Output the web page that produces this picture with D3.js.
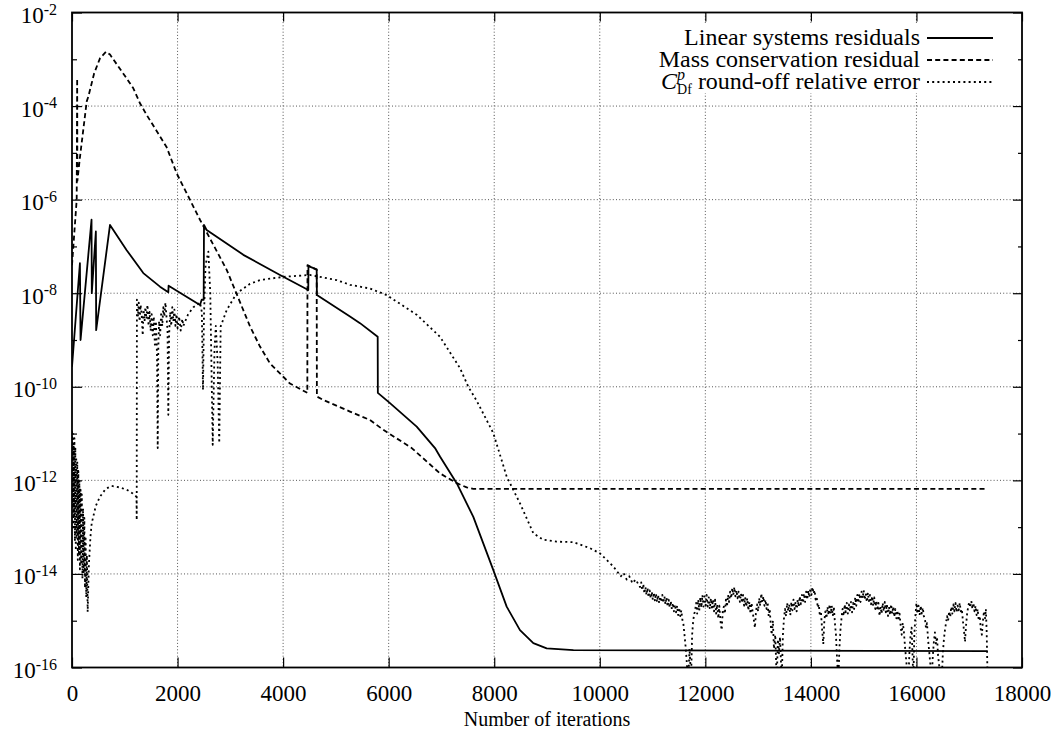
<!DOCTYPE html>
<html lang="en">
<head>
<meta charset="UTF-8">
<title>Residuals vs iterations</title>
<script src="https://d3js.org/d3.v7.min.js"></script>
<style>
  body { margin: 0; background: #fff; }
  svg { display: block; font-family: "Liberation Serif", "Times New Roman", serif; }
  .tick line { stroke: #000; stroke-width: 1.2; }
  .grid line { stroke: #555; stroke-width: 1; stroke-dasharray: 1 2.2; }
  .curve { fill: none; stroke: #000; stroke-width: 1.8; stroke-linejoin: round; }
</style>
</head>
<body>
<div id="chart"></div>
<script>
// ---- data: [iteration, log10(value)] ----
const xTicks = [0, 2000, 4000, 6000, 8000, 10000, 12000, 14000, 16000, 18000];
const yMajorExp = [-2, -4, -6, -8, -10, -12, -14, -16];
const yMinorExp = [-3, -5, -7, -9, -11, -13, -15];
const seriesNames = ["Linear systems residuals", "Mass conservation residual", "round-off relative error"];

const linearResidual = [
  [0, -9.57], [150, -7.36], [162, -9.0], [370, -6.43], [375, -8.0], [452, -6.68], [458, -8.79],
  [720, -6.54], [1036, -7.08], [1351, -7.57], [1667, -7.86], [1825, -7.98], [1830, -7.84],
  [2425, -8.25], [2457, -8.14], [2495, -8.14], [2501, -6.54], [2552, -6.65], [3246, -7.18],
  [3941, -7.61], [4477, -7.93], [4480, -7.42], [4636, -7.49], [4640, -8.04], [5267, -8.5],
  [5457, -8.64], [5792, -8.93], [5795, -10.13], [6025, -10.35], [6531, -10.85], [6878, -11.31],
  [6972, -11.49], [7289, -12.06], [7604, -12.78], [7983, -13.92], [8236, -14.7], [8488, -15.2],
  [8741, -15.48], [8994, -15.59], [9500, -15.63], [17349, -15.65]
];

const massResidual = [
  [0, -7.4], [89, -6.0], [98, -3.41], [102, -5.6], [152, -5.08], [279, -3.9], [309, -3.8],
  [420, -3.3], [530, -2.98], [644, -2.84], [720, -2.9], [1036, -3.41], [1162, -3.62],
  [1288, -3.94], [1415, -4.19], [1794, -4.88], [1984, -5.44], [2425, -6.43], [2931, -7.5],
  [3373, -8.71], [3562, -9.14], [3751, -9.5], [4130, -9.93], [4459, -10.13], [4462, -7.4],
  [4636, -7.5], [4640, -10.21], [4762, -10.28], [5267, -10.53], [5646, -10.71], [5899, -10.92],
  [6437, -11.31], [6972, -11.85], [7289, -12.06], [7478, -12.15], [7604, -12.18], [17330, -12.18]
];

const roundoffError = [
  [0, -10.95], [8, -12.6], [15, -11.0], [22, -13.0], [30, -11.2], [38, -12.8], [46, -11.1],
  [55, -13.3], [63, -11.3], [72, -13.5], [80, -11.5], [90, -13.2], [100, -11.6], [110, -13.7],
  [120, -11.8], [130, -13.6], [140, -12.0], [150, -13.9], [162, -12.2], [174, -13.8], [186, -12.3],
  [198, -14.1], [210, -12.6], [222, -14.0], [234, -12.8], [246, -14.3], [258, -13.2], [270, -14.5],
  [282, -13.6], [297, -14.81], [320, -13.8], [350, -13.2], [373, -12.92], [450, -12.55],
  [530, -12.35], [640, -12.18], [752, -12.12], [900, -12.15], [1036, -12.2], [1150, -12.28],
  [1222, -12.35], [1226, -12.85], [1230, -8.14], [1250, -8.5], [1265, -8.2], [1280, -8.6],
  [1300, -8.25], [1320, -8.45], [1340, -8.9], [1355, -8.35], [1375, -8.6], [1390, -8.3],
  [1410, -8.55], [1430, -8.25], [1450, -8.7], [1470, -8.4], [1490, -8.8], [1510, -8.45],
  [1530, -8.9], [1550, -8.5], [1570, -9.1], [1590, -8.6], [1610, -9.3], [1624, -11.31],
  [1635, -9.2], [1650, -8.6], [1670, -8.9], [1690, -8.4], [1710, -8.7], [1730, -8.3],
  [1750, -8.5], [1770, -8.2], [1790, -8.5], [1810, -8.8], [1825, -10.6], [1840, -8.9],
  [1860, -8.4], [1880, -8.7], [1900, -8.3], [1920, -8.6], [1940, -8.35], [1960, -8.7],
  [1980, -8.45], [2000, -8.75], [2030, -8.5], [2060, -8.8], [2090, -8.55], [2109, -8.7],
  [2200, -8.45], [2300, -8.3], [2425, -8.2], [2460, -8.4], [2482, -10.07], [2500, -8.5],
  [2530, -7.4], [2583, -7.11], [2620, -8.0], [2666, -11.24], [2700, -9.2], [2725, -8.7],
  [2760, -9.5], [2790, -11.2], [2817, -8.71], [2931, -8.36], [3121, -8.0], [3373, -7.8],
  [3562, -7.72], [4004, -7.65], [4509, -7.61], [5015, -7.72], [5267, -7.82], [5646, -7.9],
  [5962, -8.04], [6531, -8.46], [6972, -8.93], [7351, -9.6], [7509, -10.0], [7668, -10.3],
  [7983, -10.99], [8236, -11.92], [8488, -12.49], [8741, -13.13], [8930, -13.27], [9184, -13.31],
  [9498, -13.32], [9815, -13.45], [10004, -13.56], [10256, -13.84], [10330, -13.95],
  [10400, -14.05], [10450, -13.98], [10510, -14.12], [10560, -14.05], [10620, -14.2],
  [10680, -14.12], [10762, -14.28], [10785, -14.18], [10805, -14.35], [10825, -14.22],
  [10845, -14.42], [10865, -14.28], [10885, -14.45], [10905, -14.3], [10925, -14.5],
  [10945, -14.35], [10965, -14.52], [10985, -14.38], [11005, -14.55], [11025, -14.4],
  [11045, -14.58], [11065, -14.42], [11085, -14.6], [11105, -14.45], [11125, -14.62],
  [11145, -14.48], [11165, -14.6], [11185, -14.45], [11205, -14.62], [11225, -14.48],
  [11245, -14.65], [11265, -14.5], [11285, -14.7], [11305, -14.55], [11325, -14.72],
  [11345, -14.58], [11365, -14.75], [11385, -14.62], [11405, -14.8], [11425, -14.65],
  [11445, -14.82], [11465, -14.68], [11485, -14.88], [11505, -14.72], [11525, -14.9],
  [11545, -14.78], [11565, -14.98], [11583, -15.05], [11605, -15.3], [11630, -15.6],
  [11655, -16.0], [11677, -16.3], [11700, -15.6], [11715, -15.9], [11730, -16.2], [11750, -15.3],
  [11770, -15.0], [11790, -14.85], [11804, -14.8], [11825, -14.62], [11845, -14.85], [11865, -14.55],
  [11885, -14.78], [11905, -14.5], [11925, -14.72], [11945, -14.45], [11965, -14.7], [11985, -14.48],
  [12005, -14.68], [12025, -14.45], [12045, -14.7], [12065, -14.5], [12085, -14.75], [12105, -14.52],
  [12125, -14.72], [12145, -14.55], [12165, -14.8], [12185, -14.55], [12205, -14.85], [12225, -14.65],
  [12245, -14.95], [12265, -14.68], [12290, -15.05], [12310, -15.2], [12330, -14.8], [12350, -14.7],
  [12370, -14.85], [12390, -14.55], [12410, -14.7], [12430, -14.45], [12450, -14.6], [12470, -14.38],
  [12490, -14.52], [12510, -14.3], [12530, -14.45], [12550, -14.28], [12570, -14.48], [12590, -14.35],
  [12610, -14.52], [12630, -14.38], [12655, -14.6], [12675, -14.42], [12695, -14.62], [12715, -14.45],
  [12735, -14.68], [12755, -14.5], [12775, -14.7], [12795, -14.52], [12815, -14.78], [12835, -14.6],
  [12855, -14.85], [12875, -14.62], [12895, -14.8], [12915, -14.95], [12940, -15.15], [12960, -14.8],
  [12980, -14.65], [13000, -14.8], [13020, -14.52], [13040, -14.68], [13060, -14.42], [13080, -14.6],
  [13100, -14.48], [13120, -14.68], [13140, -14.55], [13160, -14.75], [13180, -14.6], [13200, -14.9],
  [13220, -14.75], [13240, -15.1], [13257, -15.3], [13280, -15.0], [13300, -15.6], [13325, -15.3],
  [13352, -16.3], [13375, -15.4], [13395, -15.7], [13415, -15.35], [13447, -16.3], [13470, -15.3],
  [13490, -14.95], [13510, -14.75], [13530, -14.9], [13550, -14.62], [13570, -14.8], [13590, -14.65],
  [13610, -14.88], [13630, -14.6], [13650, -14.78], [13670, -14.55], [13690, -14.75], [13710, -14.6],
  [13730, -14.8], [13750, -14.55], [13770, -14.7], [13790, -14.48], [13810, -14.65], [13830, -14.45],
  [13850, -14.62], [13870, -14.42], [13890, -14.6], [13910, -14.38], [13930, -14.55], [13950, -14.35],
  [13970, -14.5], [13990, -14.3], [14010, -14.45], [14030, -14.28], [14050, -14.42], [14070, -14.35],
  [14090, -14.55], [14110, -14.5], [14130, -14.72], [14150, -14.65], [14170, -14.9], [14190, -14.8],
  [14210, -15.15], [14235, -15.5], [14255, -15.0], [14275, -14.8], [14295, -14.95], [14315, -14.7],
  [14335, -14.88], [14355, -14.65], [14375, -14.85], [14395, -14.68], [14415, -14.9], [14435, -14.7],
  [14455, -15.05], [14475, -15.3], [14495, -15.8], [14520, -16.3], [14540, -15.6], [14560, -15.2],
  [14580, -14.95], [14600, -14.75], [14620, -14.9], [14640, -14.65], [14660, -14.82], [14680, -14.62],
  [14700, -14.85], [14720, -14.65], [14740, -14.8], [14760, -14.6], [14780, -14.82], [14800, -14.62],
  [14820, -14.75], [14840, -14.5], [14860, -14.68], [14880, -14.45], [14900, -14.62], [14920, -14.42],
  [14940, -14.6], [14960, -14.38], [14980, -14.52], [15000, -14.35], [15020, -14.55], [15040, -14.42],
  [15060, -14.6], [15080, -14.4], [15100, -14.58], [15120, -14.45], [15140, -14.65], [15160, -14.48],
  [15180, -14.68], [15200, -14.5], [15220, -14.75], [15240, -14.58], [15260, -14.78], [15280, -14.62],
  [15300, -14.9], [15320, -14.7], [15340, -14.85], [15360, -14.62], [15380, -14.8], [15400, -14.6],
  [15420, -14.82], [15440, -14.65], [15460, -14.9], [15480, -14.7], [15500, -14.88], [15520, -14.65],
  [15540, -14.85], [15560, -14.7], [15580, -14.92], [15600, -14.75], [15620, -14.95], [15640, -14.78],
  [15660, -15.0], [15680, -14.85], [15700, -15.1], [15720, -15.3], [15740, -15.05], [15760, -15.2],
  [15783, -15.55], [15810, -15.9], [15846, -16.3], [15870, -15.6], [15890, -15.3], [15909, -15.15],
  [15925, -15.7], [15941, -16.3], [15960, -15.3], [15980, -14.9], [16000, -14.62], [16020, -14.85],
  [16040, -14.68], [16060, -14.88], [16080, -14.68], [16100, -14.85], [16120, -14.72], [16140, -14.9],
  [16160, -14.95], [16180, -15.15], [16200, -15.05], [16220, -15.4], [16245, -15.7], [16265, -15.95],
  [16288, -16.3], [16310, -15.75], [16330, -15.45], [16350, -15.25], [16370, -15.5], [16390, -15.35],
  [16410, -15.75], [16430, -15.95], [16455, -16.1], [16478, -16.3], [16500, -15.7], [16520, -15.4],
  [16540, -15.2], [16560, -15.05], [16580, -14.9], [16600, -15.0], [16620, -14.8], [16640, -14.92],
  [16660, -14.7], [16680, -14.85], [16700, -14.65], [16720, -14.8], [16740, -14.62], [16760, -14.82],
  [16780, -14.68], [16800, -14.78], [16820, -14.62], [16840, -14.8], [16860, -14.75], [16880, -15.0],
  [16900, -15.2], [16920, -15.45], [16940, -15.1], [16960, -14.85], [16980, -14.7], [17000, -14.6],
  [17020, -14.72], [17040, -14.58], [17060, -14.75], [17080, -14.62], [17100, -14.8], [17120, -14.68],
  [17140, -14.88], [17160, -14.75], [17180, -15.0], [17200, -14.9], [17220, -15.2], [17240, -15.3],
  [17260, -15.0], [17280, -14.8], [17300, -14.95], [17315, -14.75], [17330, -15.2], [17349, -16.3]
];

// ---- layout ----
const W = 1060, H = 747;
const plotL = 72, plotR = 1022, plotT = 12.5, plotB = 667.5;

const svg = d3.select('#chart').append('svg')
  .attr('width', W).attr('height', H);

const x = d3.scaleLinear().domain([0, 18000]).range([plotL, plotR]);
const y = d3.scaleLog().domain([1e-16, 1e-2]).range([plotB, plotT]);
const yv = e => y(Math.pow(10, e));

// grid
svg.append('g').attr('class', 'grid')
  .selectAll('line').data(xTicks.slice(1, -1)).enter().append('line')
  .attr('x1', d => x(d)).attr('x2', d => x(d)).attr('y1', plotT).attr('y2', plotB);
svg.append('g').attr('class', 'grid')
  .selectAll('line').data(yMajorExp.slice(1, -1)).enter().append('line')
  .attr('x1', plotL).attr('x2', plotR).attr('y1', d => yv(d)).attr('y2', d => yv(d));

// axes (ticks pointing inward, mirrored)
const bottomAxis = svg.append('g').attr('transform', `translate(0,${plotB})`)
  .call(d3.axisBottom(x).tickValues(xTicks).tickSizeInner(-10).tickSizeOuter(0)
    .tickPadding(17).tickFormat(d3.format('d')));
bottomAxis.selectAll('text').attr('font-size', 23).attr('fill', '#000')
  .attr('font-family', '"Liberation Serif", serif');
svg.append('g').attr('transform', `translate(0,${plotT})`)
  .call(d3.axisTop(x).tickValues(xTicks).tickSizeInner(-9).tickSizeOuter(0).tickFormat(''));
svg.append('g').attr('transform', `translate(${plotL},0)`)
  .call(d3.axisLeft(y).tickValues(yMajorExp.map(e => Math.pow(10, e))).tickSizeInner(-10).tickSizeOuter(0).tickFormat(''));
svg.append('g').attr('transform', `translate(${plotL},0)`)
  .call(d3.axisLeft(y).tickValues(yMinorExp.map(e => Math.pow(10, e))).tickSizeInner(-5).tickSizeOuter(0).tickFormat(''));
svg.append('g').attr('transform', `translate(${plotR},0)`)
  .call(d3.axisRight(y).tickValues(yMajorExp.map(e => Math.pow(10, e))).tickSizeInner(-9).tickSizeOuter(0).tickFormat(''));
svg.append('g').attr('transform', `translate(${plotR},0)`)
  .call(d3.axisRight(y).tickValues(yMinorExp.map(e => Math.pow(10, e))).tickSizeInner(-4).tickSizeOuter(0).tickFormat(''));
svg.selectAll('.domain').remove();

// y tick labels 10^n
const ylab = svg.append('g').selectAll('text').data(yMajorExp).enter().append('text')
  .attr('x', 57).attr('y', d => yv(d) + 10.5)
  .attr('text-anchor', 'end').attr('font-size', 23);
ylab.append('tspan').text('10');
ylab.append('tspan').attr('dy', -8.5).attr('font-size', 16).text(d => '-' + Math.abs(d));

// x axis title
svg.append('text').attr('x', (plotL + plotR) / 2).attr('y', 726)
  .attr('text-anchor', 'middle').attr('font-size', 20).text('Number of iterations');

// legend background (hides grid under key)
svg.append('rect').attr('x', 640).attr('y', 23).attr('width', 372).attr('height', 70).attr('fill', '#fff');

// curves
svg.append('clipPath').attr('id', 'plotclip')
  .append('rect').attr('x', plotL).attr('y', plotT).attr('width', plotR - plotL).attr('height', plotB - plotT);
const line = d3.line().x(d => x(d[0])).y(d => yv(d[1]));
const plot = svg.append('g').attr('clip-path', 'url(#plotclip)');
const dashes = [null, '5 3.2', '2 3.2'];
[linearResidual, massResidual, roundoffError].forEach((s, i) => {
  plot.append('path').datum(s).attr('class', 'curve')
    .attr('stroke-dasharray', dashes[i]).attr('d', line);
});

// border
svg.append('rect').attr('x', plotL).attr('y', plotT).attr('width', plotR - plotL).attr('height', plotB - plotT)
  .attr('fill', 'none').attr('stroke', '#000').attr('stroke-width', 1.8);

// legend
const keyRows = [45, 67, 89];
const key = svg.append('g');
keyRows.forEach((by, i) => {
  key.append('line').attr('x1', 927).attr('x2', 993).attr('y1', by - 7).attr('y2', by - 7)
    .attr('stroke', '#000').attr('stroke-width', 1.8).attr('stroke-dasharray', dashes[i]);
});
key.append('text').attr('x', 920).attr('y', keyRows[0]).attr('text-anchor', 'end')
  .attr('font-size', 24).text(seriesNames[0]);
key.append('text').attr('x', 920).attr('y', keyRows[1]).attr('text-anchor', 'end')
  .attr('font-size', 24).text(seriesNames[1]);
const k3 = key.append('text').attr('x', 920).attr('y', keyRows[2]).attr('text-anchor', 'end')
  .attr('font-size', 24);
k3.append('tspan').attr('font-style', 'italic').text('C');
k3.append('tspan').attr('font-style', 'italic').attr('font-size', 16).attr('dy', -9).text('p');
k3.append('tspan').attr('font-size', 14).attr('dx', -8).attr('dy', 14).text('Df');
k3.append('tspan').attr('dy', -5).text(' ' + seriesNames[2]);
</script>
</body>
</html>
